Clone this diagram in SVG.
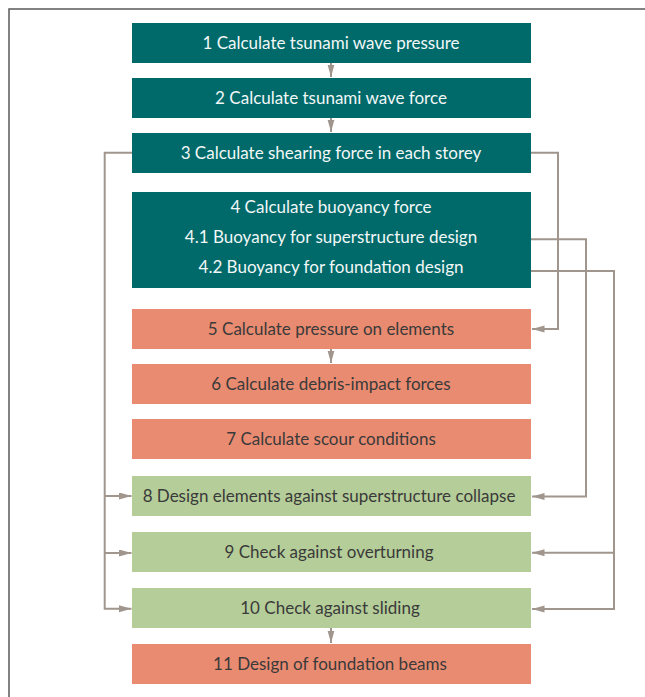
<svg xmlns="http://www.w3.org/2000/svg" width="645" height="697" viewBox="0 0 645 697">
<defs>
<marker id="ah" markerUnits="userSpaceOnUse" markerWidth="13" markerHeight="8" refX="12.5" refY="3.5" orient="auto">
<path d="M0,0 L12.5,3.5 L0,7 z" fill="#a0968d"/>
</marker>
<style>
.teal{fill:#006a6a}
.salmon{fill:#e98b71}
.green{fill:#b5cd98}
.tw{font-family:Lato,"Liberation Sans",sans-serif;font-size:17px;fill:#f2f7f7;text-anchor:middle}
.td{font-family:Lato,"Liberation Sans",sans-serif;font-size:17px;fill:#3a3a3a;text-anchor:middle}
.con{fill:none;stroke:#a0968d;stroke-width:2}
.frame{fill:none;stroke:#5a5a5a;stroke-width:1.5}
</style>
</defs>
<rect width="645" height="697" fill="#ffffff"/>
<path class="frame" d="M9,697 V9 H645"/>

<g id="n1"><rect class="teal" x="132" y="23" width="399" height="40"/><text class="tw" x="331" y="49.3">1 Calculate tsunami wave pressure</text></g>
<g id="n2"><rect class="teal" x="132" y="78" width="399" height="40"/><text class="tw" x="331" y="104.3">2 Calculate tsunami wave force</text></g>
<g id="n3"><rect class="teal" x="132" y="133" width="399" height="40"/><text class="tw" x="331" y="159.3">3 Calculate shearing force in each storey</text></g>
<g id="n4"><rect class="teal" x="132" y="192" width="399" height="96"/>
<text class="tw" x="331" y="213.3">4 Calculate buoyancy force</text>
<text class="tw" x="331" y="243.3">4.1 Buoyancy for superstructure design</text>
<text class="tw" x="331" y="273.3">4.2 Buoyancy for foundation design</text></g>
<g id="n5"><rect class="salmon" x="132" y="309" width="399" height="40"/><text class="td" x="331" y="335.3">5 Calculate pressure on elements</text></g>
<g id="n6"><rect class="salmon" x="132" y="364" width="399" height="40"/><text class="td" x="331" y="390.3">6 Calculate debris-impact forces</text></g>
<g id="n7"><rect class="salmon" x="132" y="419" width="399" height="40"/><text class="td" x="331" y="445.3">7 Calculate scour conditions</text></g>
<g id="n8"><rect class="green" x="132" y="476" width="399" height="40"/><text class="td" x="329" y="502.3">8 Design elements against superstructure collapse</text></g>
<g id="n9"><rect class="green" x="132" y="532" width="399" height="40"/><text class="td" x="329" y="558.3">9 Check against overturning</text></g>
<g id="n10"><rect class="green" x="132" y="588" width="399" height="40"/><text class="td" x="330" y="614.3">10 Check against sliding</text></g>
<g id="n11"><rect class="salmon" x="132" y="644" width="399" height="40"/><text class="td" x="330" y="670.3">11 Design of foundation beams</text></g>

<g id="connectors">
<path class="con" d="M331,63 V77" marker-end="url(#ah)"/>
<path class="con" d="M331,118 V132" marker-end="url(#ah)"/>
<path class="con" d="M331,349 V363" marker-end="url(#ah)"/>
<path class="con" d="M331,628 V643" marker-end="url(#ah)"/>
<path class="con" d="M132,152.7 H104.7 V608.7 H131.5" marker-end="url(#ah)"/>
<path class="con" d="M104.7,496 H131.5" marker-end="url(#ah)"/>
<path class="con" d="M104.7,553 H131.5" marker-end="url(#ah)"/>
<path class="con" d="M531,152.7 H558 V329 H532" marker-end="url(#ah)"/>
<path class="con" d="M531,239.3 H586 V496.5 H532" marker-end="url(#ah)"/>
<path class="con" d="M531,271 H614 V609 H532" marker-end="url(#ah)"/>
<path class="con" d="M614,552.7 H532" marker-end="url(#ah)"/>
</g>
</svg>
